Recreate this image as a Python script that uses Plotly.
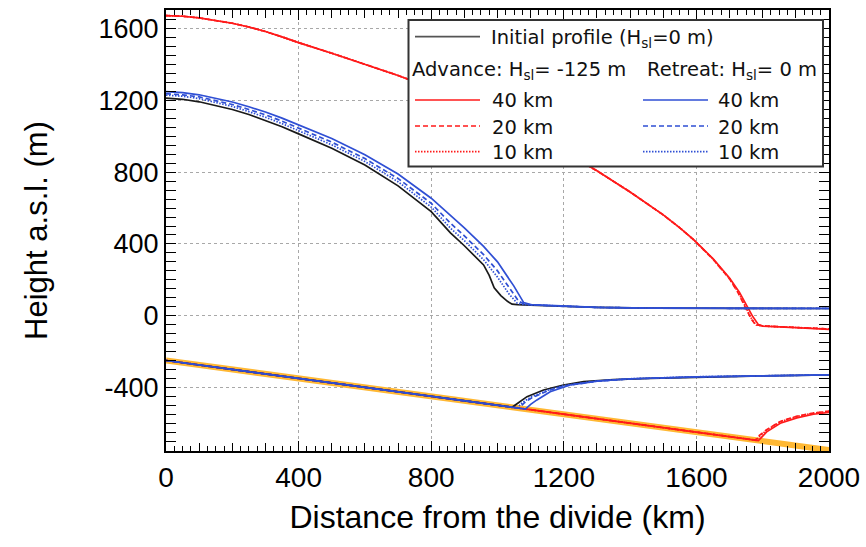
import plotly.graph_objects as go

# ---------------- data (km, m) ----------------
bed_x = [0, 2000]
bed_y = [-250, -750]

init_surf_x = [0, 50, 100, 150, 200, 250, 300, 350, 400, 500, 600, 700, 800, 858, 900, 958, 975, 990,
               1010, 1030, 1044, 1060, 1100, 1200, 1300, 1461, 1600, 1800, 2000]
init_surf_y = [1213, 1207, 1193, 1173, 1150, 1122, 1090, 1054, 1014, 934, 840, 724, 580, 462, 390, 283,
               225, 155, 112, 80, 64, 61, 58, 50, 46, 42, 41, 41, 40]
init_bot_x = [0, 1044, 1060, 1089, 1139, 1199, 1260, 1350, 1461, 1600, 1800, 2000]
init_bot_y = [-250, -511, -490, -452, -415, -387, -368, -357, -350, -343, -336, -331]

ret40_surf_x = [0, 50, 100, 150, 200, 250, 300, 350, 400, 500, 600, 700, 800, 858, 900, 958, 1000,
                1049, 1065, 1079, 1100, 1200, 1300, 1461, 1600, 1800, 2000]
ret40_surf_y = [1250, 1244, 1232, 1214, 1192, 1165, 1136, 1102, 1064, 988, 898, 790, 655, 557, 490, 386,
                300, 166, 115, 73, 62, 52, 46, 42, 41, 41, 40]
ret40_bot_x = [0, 1084, 1100, 1119, 1159, 1219, 1300, 1400, 1600, 1800, 2000]
ret40_bot_y = [-250, -521, -495, -470, -424, -387, -365, -352, -341, -335, -330]

ret20_surf_x = [0, 50, 100, 150, 200, 250, 300, 350, 400, 500, 600, 700, 800, 858, 900, 958, 1000,
                1040, 1064, 1080, 1100, 1200, 1300, 1461, 1600, 1800, 2000]
ret20_surf_y = [1238, 1232, 1220, 1201, 1178, 1150, 1120, 1085, 1046, 968, 876, 765, 627, 516, 445, 340,
                250, 140, 80, 66, 61, 52, 46, 42, 41, 41, 40]
ret20_bot_x = [0, 1064, 1080, 1100, 1150, 1200, 1300, 1400, 1600, 1800, 2000]
ret20_bot_y = [-250, -516, -488, -462, -420, -392, -366, -353, -342, -335, -330]

ret10_surf_x = [0, 50, 100, 150, 200, 250, 300, 350, 400, 500, 600, 700, 800, 858, 900, 958, 1000,
                1035, 1059, 1075, 1100, 1200, 1300, 1461, 1600, 1800, 2000]
ret10_surf_y = [1230, 1224, 1211, 1191, 1167, 1138, 1107, 1071, 1032, 953, 860, 747, 606, 488, 418, 312,
                215, 120, 70, 63, 60, 52, 46, 42, 41, 41, 40]
ret10_bot_x = [0, 1059, 1075, 1100, 1150, 1200, 1300, 1400, 1600, 1800, 2000]
ret10_bot_y = [-250, -515, -485, -455, -417, -390, -365, -352, -341, -335, -330]

adv40_surf_x = [0, 50, 100, 150, 200, 250, 300, 350, 400, 500, 600, 700, 800, 900, 1000, 1100, 1200,
                1300, 1400, 1500, 1550, 1591, 1650, 1700, 1730, 1752, 1770, 1787, 1800, 1900, 2000]
adv40_surf_y = [1674, 1670, 1661, 1648, 1631, 1610, 1585, 1555, 1523, 1464, 1404, 1340, 1270, 1192, 1108,
                1016, 916, 808, 690, 562, 490, 425, 318, 210, 130, 55, -5, -50, -58, -67, -76]
adv40_bot_x = [0, 1787, 1800, 1812, 1853, 1903, 1953, 2000]
adv40_bot_y = [-250, -697, -672, -648, -600, -570, -550, -540]

adv20_surf_x = [0, 50, 100, 150, 200, 250, 300, 350, 400, 500, 600, 700, 800, 900, 1000, 1100, 1200,
                1300, 1400, 1500, 1550, 1591, 1650, 1700, 1725, 1745, 1765, 1778, 1800, 1900, 2000]
adv20_surf_y = [1674, 1670, 1661, 1648, 1631, 1610, 1585, 1555, 1523, 1464, 1404, 1340, 1270, 1192, 1108,
                1016, 916, 808, 690, 562, 490, 424, 315, 205, 130, 60, -18, -50, -57, -66, -74]
adv20_bot_x = [0, 1778, 1790, 1812, 1853, 1903, 1953, 2000]
adv20_bot_y = [-250, -694, -668, -636, -590, -561, -543, -533]

adv10_surf_x = [0, 50, 100, 150, 200, 250, 300, 350, 400, 500, 600, 700, 800, 900, 1000, 1100, 1200,
                1300, 1400, 1500, 1550, 1591, 1650, 1700, 1727, 1747, 1767, 1780, 1800, 1900, 2000]
adv10_surf_y = [1674, 1670, 1661, 1648, 1631, 1610, 1585, 1555, 1523, 1464, 1404, 1340, 1270, 1192, 1108,
                1016, 916, 808, 690, 562, 490, 424, 316, 206, 128, 58, -20, -52, -58, -66, -74]
adv10_bot_x = [0, 1780, 1792, 1812, 1853, 1903, 1953, 2000]
adv10_bot_y = [-250, -695, -670, -638, -592, -562, -544, -534]

x_ticks = [0, 400, 800, 1200, 1600, 2000]
y_ticks = [-400, 0, 400, 800, 1200, 1600]

legend_header = "Initial profile (H<sub>sl</sub>=0 m)"
adv_label = "Advance: H<sub>sl</sub>= -125 m"
ret_label = "Retreat: H<sub>sl</sub>= 0 m"
res_labels = ["40 km", "20 km", "10 km"]

# ---------------- style ----------------
W, H = 866, 547
ML, MR, MT, MB = 166, 37, 10, 96
PW, PH = W - ML - MR, H - MT - MB
RED, BLUE, BLACK, ORANGE = "#ff1a1a", "#2f4fd4", "#1a1a1a", "#ffb833"
DASH = {"40 km": "solid", "20 km": "5px,3px", "10 km": "1.5px,1.5px"}
LW = 1.7


def fx(px):
    return (px - ML) / PW


def fy(py):
    return 1 - (py - MT) / PH


fig = go.Figure()
fig.add_trace(go.Scatter(x=bed_x, y=bed_y, mode="lines", line=dict(color=ORANGE, width=6),
                         hoverinfo="skip", showlegend=False))

adv = [("10 km", adv10_surf_x, adv10_surf_y, adv10_bot_x, adv10_bot_y),
       ("20 km", adv20_surf_x, adv20_surf_y, adv20_bot_x, adv20_bot_y),
       ("40 km", adv40_surf_x, adv40_surf_y, adv40_bot_x, adv40_bot_y)]
for lab, sx, sy, bx, by in adv:
    for xx, yy in ((sx, sy), (bx, by)):
        fig.add_trace(go.Scatter(x=xx, y=yy, mode="lines",
                                 line=dict(color=RED, width=LW, dash=DASH[lab]), showlegend=False))

for xx, yy in ((init_surf_x, init_surf_y), (init_bot_x, init_bot_y)):
    fig.add_trace(go.Scatter(x=xx, y=yy, mode="lines", line=dict(color=BLACK, width=LW), showlegend=False))

ret = [("10 km", ret10_surf_x, ret10_surf_y, ret10_bot_x, ret10_bot_y),
       ("20 km", ret20_surf_x, ret20_surf_y, ret20_bot_x, ret20_bot_y),
       ("40 km", ret40_surf_x, ret40_surf_y, ret40_bot_x, ret40_bot_y)]
for lab, sx, sy, bx, by in ret:
    for xx, yy in ((sx, sy), (bx, by)):
        fig.add_trace(go.Scatter(x=xx, y=yy, mode="lines",
                                 line=dict(color=BLUE, width=LW, dash=DASH[lab]), showlegend=False))

# medium ticks axis (every 100 km)
fig.add_trace(go.Scatter(x=[0, 2000], y=[0, 0], xaxis="x2", mode="lines", line=dict(width=0),
                         hoverinfo="skip", showlegend=False))

# ---------------- legend (drawn manually) ----------------
shapes = [dict(type="rect", xref="paper", yref="paper", x0=fx(408.5), x1=fx(823), y0=fy(166.5), y1=fy(20),
               fillcolor="white", line=dict(color="#333333", width=2), layer="above")]
annotations = []
LEG_FONT = dict(family="DejaVu Sans, Verdana, sans-serif", size=19.5, color="#111111")


def sample(x0, x1, y, color, dash):
    shapes.append(dict(type="line", xref="paper", yref="paper", x0=fx(x0), x1=fx(x1), y0=fy(y), y1=fy(y),
                       line=dict(color=color, width=LW, dash=dash), layer="above"))


def text(x, y, s):
    annotations.append(dict(x=fx(x), y=fy(y), xref="paper", yref="paper", text=s, showarrow=False,
                            xanchor="left", yanchor="middle", font=LEG_FONT))


sample(415, 480, 36.7, "#555555", "solid")
text(489, 38, legend_header)
text(410, 71, adv_label)
text(645, 71, ret_label)
rows_y = [100, 126, 151.7]
for lab, ry in zip(res_labels, rows_y):
    sample(415, 480, ry, RED, DASH[lab])
    text(490, ry + 1, lab)
    sample(643, 708, ry, BLUE, DASH[lab])
    text(716, ry + 1, lab)

REG = "Liberation Sans, Arial, Helvetica, sans-serif"

axis_common = dict(showline=True, linecolor="black", linewidth=2, mirror="allticks",
                   ticks="inside", tickcolor="black", tickwidth=1.3, ticklen=10,
                   showgrid=True, gridcolor="#a8a8a8", griddash="dot", gridwidth=1, zeroline=False)

fig.update_layout(
    width=W, height=H, margin=dict(l=ML, r=MR, t=MT, b=MB, autoexpand=False),
    paper_bgcolor="white", plot_bgcolor="white", showlegend=False,
    shapes=shapes, annotations=annotations,
    xaxis=dict(range=[0, 2000], tickvals=x_ticks, ticktext=[str(v) for v in x_ticks],
               tickfont=dict(family=REG, size=28, color="black"),
               title=dict(text="Distance from the divide (km)", font=dict(family=REG, size=32, color="black"),
                          standoff=14),
               minor=dict(dtick=25, ticklen=5, tickcolor="black", tickwidth=1.2, ticks="inside", showgrid=False),
               **axis_common),
    xaxis2=dict(range=[0, 2000], overlaying="x", side="bottom", anchor="y", dtick=100, tick0=0,
                ticks="inside", ticklen=8, tickcolor="black", tickwidth=1.2, showticklabels=False,
                showgrid=False, showline=False, mirror="ticks", zeroline=False),
    yaxis=dict(range=[-755, 1705], tickvals=y_ticks, ticktext=[str(v) for v in y_ticks],
               tickfont=dict(family=REG, size=27, color="black"),
               title=dict(text="Height a.s.l. (m)", font=dict(family=REG, size=31, color="black"), standoff=42),
               minor=dict(dtick=50, tick0=0, ticklen=5, tickcolor="black", tickwidth=1.2, ticks="inside",
                          showgrid=False),
               **axis_common),
)

fig.write_html("out.html")
